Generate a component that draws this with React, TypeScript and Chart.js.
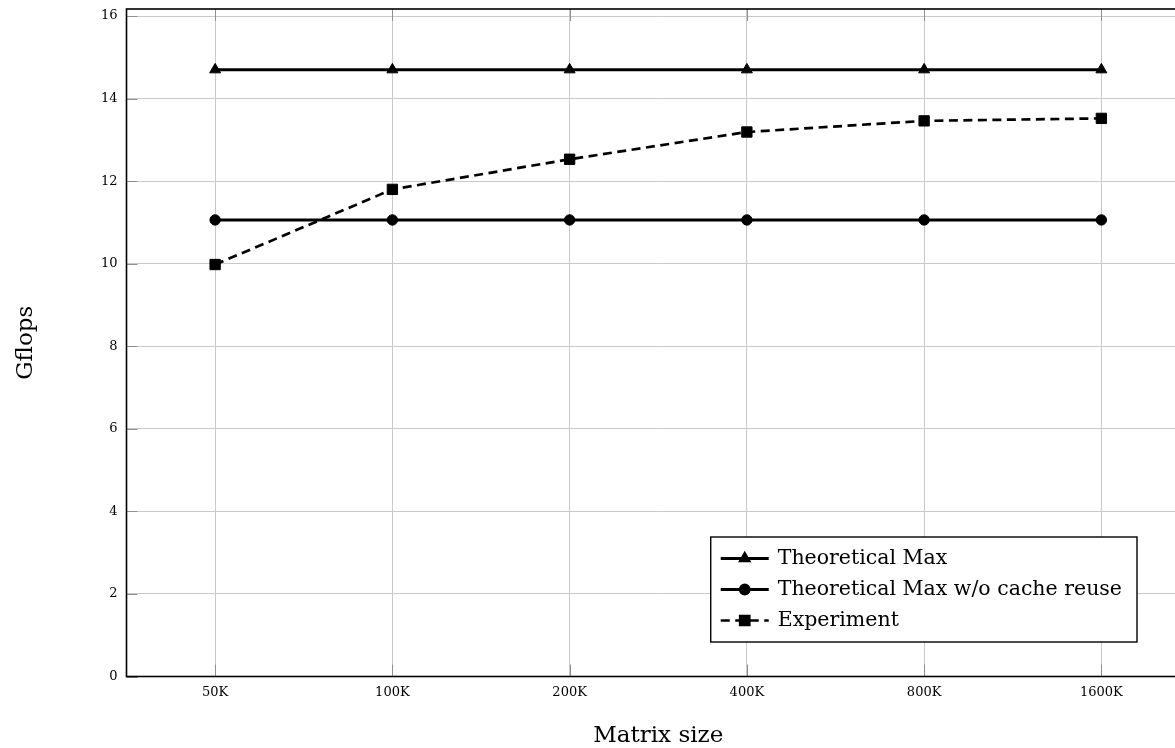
import React, { useEffect, useRef } from "react";
import { Chart, registerables } from "chart.js";
import { drawPoint } from "chart.js/helpers";

Chart.register(...registerables);

const categories = ["50K", "100K", "200K", "400K", "800K", "1600K"];
const theoreticalMax = [14.7, 14.7, 14.7, 14.7, 14.7, 14.7];
const theoreticalNoCache = [11.06, 11.06, 11.06, 11.06, 11.06, 11.06];
const experiment = [9.98, 11.8, 12.53, 13.19, 13.46, 13.52];
const seriesLabels = ["Theoretical Max", "Theoretical Max w/o cache reuse", "Experiment"];
const yMin = 0;
const yMax = 16.17;
const yStep = 2;
const xTitle = "Matrix size";
const yTitle = "Gflops";

const FONT = '"DejaVu Serif", "Liberation Serif", serif';

const framePlugin = {
  id: "frameTicks",
  beforeDatasetsDraw(chart: any) {
    const { ctx, chartArea: ca } = chart;
    const xs = chart.scales.x;
    const ys = chart.scales.y;
    ctx.save();
    ctx.strokeStyle = "#8f8f8f";
    ctx.lineWidth = 1;
    const line = (x1: number, y1: number, x2: number, y2: number) => {
      ctx.beginPath();
      ctx.moveTo(x1, y1);
      ctx.lineTo(x2, y2);
      ctx.stroke();
    };
    ys.ticks.forEach((t: any) => {
      const p = Math.round(ys.getPixelForValue(t.value)) + 0.5;
      line(ca.left, p, ca.left + 11, p);
      line(ca.right, p, ca.right - 11, p);
    });
    xs.ticks.forEach((_t: any, i: number) => {
      const p = Math.round(xs.getPixelForTick(i)) + 0.5;
      line(p, ca.bottom, p, ca.bottom - 12);
      line(p, ca.top, p, ca.top + 12);
    });
    ctx.strokeStyle = "#000000";
    ctx.lineWidth = 1.6;
    ctx.strokeRect(ca.left, ca.top, ca.right - ca.left, ca.bottom - ca.top);
    ctx.restore();
  },
};

const legendPlugin = {
  id: "boxLegend",
  afterDraw(chart: any) {
    const { ctx, chartArea: ca } = chart;
    const items = chart.data.datasets;
    ctx.save();
    ctx.font = `20.5px ${FONT}`;
    const maxW = Math.max(...items.map((d: any) => ctx.measureText(d.label).width));
    const w = 67 + maxW + 15;
    const h = 105;
    const right = ca.right - 53;
    const bottom = ca.bottom - 34.5;
    const left = right - w;
    const top = bottom - h;
    ctx.fillStyle = "#ffffff";
    ctx.fillRect(left, top, w, h);
    ctx.lineWidth = 1.4;
    ctx.strokeStyle = "#000000";
    ctx.strokeRect(left, top, w, h);
    items.forEach((ds: any, i: number) => {
      const y = top + 21.5 + i * 31;
      ctx.save();
      ctx.setLineDash(ds.borderDash || []);
      ctx.lineWidth = ds.borderWidth;
      ctx.strokeStyle = ds.borderColor;
      ctx.beginPath();
      ctx.moveTo(left + 10, y);
      ctx.lineTo(left + 58, y);
      ctx.stroke();
      ctx.restore();
      ctx.fillStyle = ds.pointBackgroundColor;
      ctx.strokeStyle = ds.borderColor;
      drawPoint(
        ctx,
        { pointStyle: ds.pointStyle, radius: ds.pointRadius, rotation: 0, borderWidth: 1 } as any,
        left + 34,
        y
      );
      ctx.fillStyle = "#000000";
      ctx.textBaseline = "middle";
      ctx.textAlign = "left";
      ctx.fillText(ds.label, left + 67, y);
    });
    ctx.restore();
  },
};

export default function App() {
  const ref = useRef<HTMLCanvasElement | null>(null);

  useEffect(() => {
    if (!ref.current) return;
    const common = {
      fill: false,
      tension: 0,
      borderColor: "#000000",
      pointBackgroundColor: "#000000",
      pointBorderColor: "#000000",
      pointBorderWidth: 1,
    };
    const chart = new Chart(ref.current, {
      type: "line",
      data: {
        labels: categories,
        datasets: [
          {
            ...common,
            label: seriesLabels[0],
            data: theoreticalMax,
            borderWidth: 3,
            pointStyle: "triangle",
            pointRadius: 6.3,
          },
          {
            ...common,
            label: seriesLabels[1],
            data: theoreticalNoCache,
            borderWidth: 3,
            pointStyle: "circle",
            pointRadius: 5.2,
          },
          {
            ...common,
            label: seriesLabels[2],
            data: experiment,
            borderWidth: 2.7,
            borderDash: [9, 5.5],
            pointStyle: "rect",
            pointRadius: 7.3,
          },
        ] as any,
      },
      options: {
        animation: false,
        responsive: false,
        devicePixelRatio: 1,
        layout: { padding: { top: 9, right: 10, left: 0, bottom: 0 } },
        plugins: {
          legend: { display: false },
          tooltip: { enabled: false },
        },
        scales: {
          x: {
            type: "category",
            offset: true,
            border: { display: false },
            grid: { color: "#c9c9c9", lineWidth: 1, drawTicks: false, offset: false },
            ticks: { color: "#000", padding: 8, font: { family: FONT, size: 13 }, maxRotation: 0 },
            title: {
              display: true,
              text: xTitle,
              color: "#000",
              font: { family: FONT, size: 23, lineHeight: 1 },
              padding: { top: 0, bottom: 0 },
            },
            afterFit: (s: any) => {
              s.height = 71.5;
              s.paddingLeft = 0;
              s.paddingRight = 0;
            },
          },
          y: {
            type: "linear",
            min: yMin,
            max: yMax,
            border: { display: false },
            grid: { color: "#c9c9c9", lineWidth: 1, drawTicks: false },
            ticks: {
              stepSize: yStep,
              includeBounds: false,
              color: "#000",
              padding: 9,
              font: { family: FONT, size: 13 },
            },
            title: {
              display: true,
              text: yTitle,
              color: "#000",
              font: { family: FONT, size: 23, lineHeight: 1 },
              padding: { top: 15, bottom: 0 },
            },
            afterFit: (s: any) => {
              s.width = 126.5;
              s.paddingTop = 0;
              s.paddingBottom = 0;
            },
          },
        },
      },
      plugins: [framePlugin, legendPlugin],
    } as any);
    return () => chart.destroy();
  }, []);

  return (
    <div
      style={{
        position: "fixed",
        left: 0,
        top: 0,
        width: 1175,
        height: 748,
        overflow: "hidden",
        background: "#fff",
      }}
    >
      <canvas ref={ref} width={1200} height={748} style={{ display: "block" }} />
    </div>
  );
}
